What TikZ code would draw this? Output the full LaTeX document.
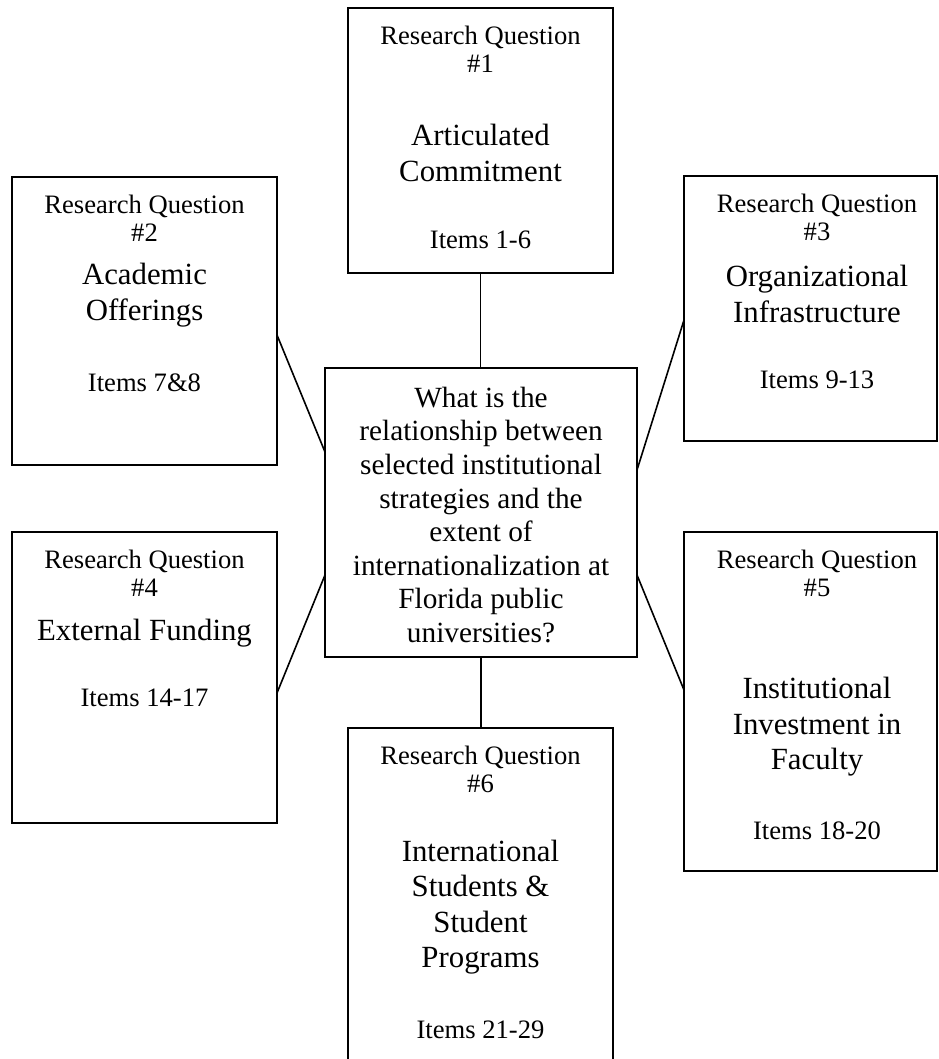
\documentclass[tikz,border=0pt]{standalone}
\usepackage{fontspec}
\setmainfont{Liberation Serif}
\usetikzlibrary{calc}
\newcommand\fsSmall{\fontsize{26.6}{28}\selectfont}
\newcommand\fsBig{\fontsize{30.8}{35.4}\selectfont}
\newcommand\fsMid{\fontsize{29.3}{33.6}\selectfont}
\begin{document}
\begin{tikzpicture}[x=1pt,y=-1pt,
  box/.style={draw, line width=2.2pt, inner sep=0pt, outer sep=0pt, anchor=north west},
  link/.style={line width=1.6pt},
  qtxt/.style={align=center, inner sep=0pt, font=\fsSmall},
  ttxt/.style={align=center, inner sep=0pt, font=\fsBig},
  itxt/.style={inner sep=0pt, font=\fsSmall}]
\useasboundingbox (0,0) rectangle (938,1059);
\clip (0,0) rectangle (938,1059);

% boxes
\node[box, minimum width=265pt, minimum height=265pt] (b1) at (348,8) {};
\node[box, minimum width=265pt, minimum height=288pt] (b2) at (12,177) {};
\node[box, minimum width=253pt, minimum height=265pt] (b3) at (684,176) {};
\node[box, minimum width=265pt, minimum height=291pt] (b4) at (12,532) {};
\node[box, minimum width=253pt, minimum height=339pt] (b5) at (684,532) {};
\node[box, minimum width=265pt, minimum height=345pt] (b6) at (348,728) {};
\node[box, minimum width=312pt, minimum height=289pt] (c) at (325,368) {};

% texts
\node[qtxt] (q1) at (480.5,49) {Research Question\\\#1};
\node[ttxt] (t1) at (480.5,153) {Articulated\\Commitment};
\node[itxt] (i1) at (480.5,240) {Items 1-6};

\node[qtxt] (q2) at (144.5,218) {Research Question\\\#2};
\node[ttxt] (t2) at (144.5,295) {Academic\\Offerings};
\node[itxt] (i2) at (144.5,383) {Items 7\&8};

\node[qtxt] (q3) at (817,217) {Research Question\\\#3};
\node[ttxt] (t3) at (817,294) {Organizational\\Infrastructure};
\node[itxt] (i3) at (817,380) {Items 9-13};

\node[qtxt] (q4) at (144.5,573) {Research Question\\\#4};
\node[ttxt] (t4) at (144.5,633) {External Funding};
\node[itxt] (i4) at (144.5,698) {Items 14-17};

\node[qtxt] (q5) at (817,573) {Research Question\\\#5};
\node[ttxt] (t5) at (817,727) {Institutional\\Investment in\\Faculty};
\node[itxt] (i5) at (817,831) {Items 18-20};

\node[qtxt] (q6) at (480.5,769) {Research Question\\\#6};
\node[ttxt] (t6) at (480.5,907) {International\\Students \&\\Student\\Programs};
\node[itxt] (i6) at (480.5,1030) {Items 21-29};

\node[align=center, inner sep=0pt, font=\fsMid] (ct) at (481,515)
  {What is the\\relationship between\\selected institutional\\strategies and the\\extent of\\internationalization at\\Florida public\\universities?};

% connectors
\draw[link] (b1.south) -- (b1.south |- c.north);
\draw[link] (c.south) -- (c.south |- b6.north);
\draw[link] ($(b2.north east)+(0,158)$) -- ($(c.north west)+(0,84)$);
\draw[link] ($(b4.north east)+(0,161)$) -- ($(c.north west)+(0,207)$);
\draw[link] ($(b3.north west)+(0,144)$) -- ($(c.north east)+(0,102)$);
\draw[link] ($(b5.north west)+(0,158)$) -- ($(c.north east)+(0,207)$);
\end{tikzpicture}
\end{document}
